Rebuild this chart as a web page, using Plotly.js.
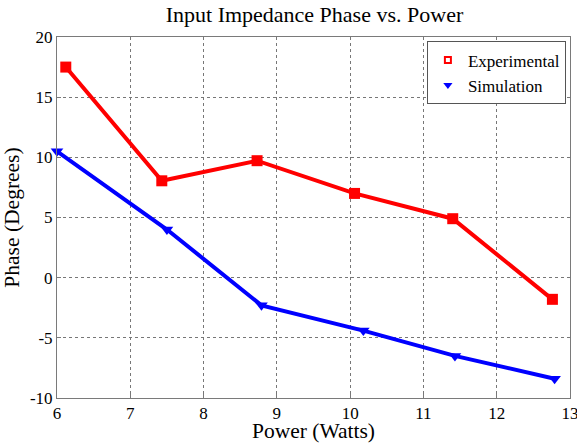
<!DOCTYPE html>
<html>
<head>
<meta charset="utf-8">
<script src="https://cdn.plot.ly/plotly-3.0.1.min.js"></script>
<style>html,body{margin:0;padding:0;background:#fff;}#chart{width:577px;height:443px;}</style>
</head>
<body>
<div id="chart"></div>
<script>
const expPower = [6.12, 7.43, 8.73, 10.06, 11.40, 12.76];
const expPhase = [17.5, 8.05, 9.72, 7.0, 4.9, -1.8];
const simPower = [6.0, 7.50, 8.79, 10.18, 11.43, 12.79];
const simPhase = [10.5, 4.0, -2.3, -4.4, -6.5, -8.4];
const xTicks = [6, 7, 8, 9, 10, 11, 12, 13];
const yTicks = [-10, -5, 0, 5, 10, 15, 20];
const yTickText = ['-10', '-5', '0', '5', '10', '15', '20'];

const font = '"Liberation Serif", serif';
const traces = [
  {x: expPower, y: expPhase, mode: 'lines+markers', showlegend: false,
   line: {color: '#ff0000', width: 4}, marker: {symbol: 'square', size: 11, color: '#ff0000'}, cliponaxis: false},
  {x: simPower, y: simPhase, mode: 'lines+markers', showlegend: false,
   line: {color: '#0000ff', width: 4}, marker: {symbol: 'triangle-down', size: 11, color: '#0000ff'}, cliponaxis: false},
  {x: [null], y: [null], mode: 'markers', name: 'Experimental',
   marker: {symbol: 'square-open', size: 6, color: '#ff0000', line: {width: 2, color: '#ff0000'}}},
  {x: [null], y: [null], mode: 'markers', name: 'Simulation',
   marker: {symbol: 'triangle-down', size: 8, color: '#0000ff'}}
];
const axisCommon = {
  showgrid: true, gridcolor: '#777', griddash: 'dot', gridwidth: 1,
  showline: true, linecolor: '#7a7a7a', linewidth: 1, mirror: true,
  zeroline: false, ticks: 'inside', ticklen: 4, tickcolor: '#7a7a7a',
  ticklabeloverflow: 'allow',
  tickfont: {family: font, size: 17, color: '#000'}
};
const layout = {
  width: 577, height: 443,
  margin: {l: 57, r: 7, t: 37, b: 45},
  paper_bgcolor: '#fff', plot_bgcolor: '#fff',
  font: {family: font},
  title: {text: 'Input Impedance Phase vs. Power', font: {family: font, size: 22, color: '#000'},
          x: 0.545, xanchor: 'center', y: 0.985, yanchor: 'top'},
  xaxis: Object.assign({}, axisCommon, {range: [6, 13], tickvals: xTicks,
    title: {text: 'Power (Watts)', font: {family: font, size: 21.5, color: '#000'}, standoff: 1}}),
  yaxis: Object.assign({}, axisCommon, {range: [-10, 20], tickvals: yTicks, ticktext: yTickText,
    title: {text: 'Phase (Degrees)', font: {family: font, size: 21.5, color: '#000'}, standoff: 4}}),
  legend: {x: 0.992, xanchor: 'right', y: 0.988, yanchor: 'top',
    bgcolor: '#fff', bordercolor: '#555', borderwidth: 1,
    font: {family: font, size: 17, color: '#000'}, itemwidth: 30, tracegroupgap: 0},
  showlegend: true
};
Plotly.newPlot('chart', traces, layout, {staticPlot: true, displayModeBar: false});
</script>
</body>
</html>
